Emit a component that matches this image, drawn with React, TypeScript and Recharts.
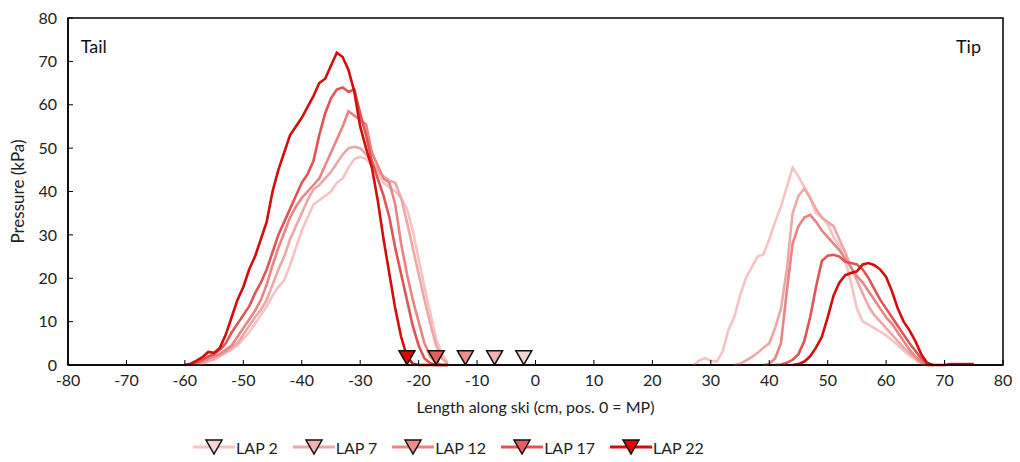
import React from 'react';
import {
  ComposedChart,
  Line,
  Scatter,
  XAxis,
  YAxis,
  Legend,
  ReferenceArea,
  ReferenceDot,
  Label,
} from 'recharts';

const laps = ['LAP 2', 'LAP 7', 'LAP 12', 'LAP 17', 'LAP 22'];
const lapKeys = ['lap2', 'lap7', 'lap12', 'lap17', 'lap22'];
const lineColors = ['#f5c3c3', '#f0a6a6', '#e98484', '#e05454', '#d40d0d'];
const markerColors = ['#f9d3d3', '#f5b0b0', '#ef8c8c', '#e65d5d', '#e30000'];

// marker positions (cm) for each lap
const markerX = [-2, -7, -12, -17, -22];
const markerY = 1.7;

const xTicks = [-80, -70, -60, -50, -40, -30, -20, -10, 0, 10, 20, 30, 40, 50, 60, 70, 80];
const yTicks = [0, 10, 20, 30, 40, 50, 60, 70, 80];

// tail section, x = -60 .. -15
const tailX = [
  -60, -59, -58, -57, -56, -55, -54, -53, -52, -51, -50, -49, -48, -47, -46, -45,
  -44, -43, -42, -41, -40, -39, -38, -37, -36, -35, -34, -33, -32, -31, -30, -29,
  -28, -27, -26, -25, -24, -23, -22, -21, -20, -19, -18, -17, -16, -15,
];
const lap2Tail = [
  null, null, 0, 0.3, 0.8, 1.2, 2, 2.8, 3.5, 4.5, 6, 7.5, 9.5, 11.5, 13.5, 16,
  18, 19.5, 23, 27, 31, 34, 37, 38, 39, 40, 42, 43, 45.5, 47.5, 48, 47.5,
  46, 44.5, 42, 41, 40, 38.5, 36, 31, 24.5, 18, 12, 6, 2.5, 0.5,
];
const lap7Tail = [
  null, null, 0, 0.5, 1, 1.5, 2.2, 3, 4, 5, 7, 9, 11, 12.7, 15, 18.5,
  22, 25, 29, 32, 35, 38, 40.5, 41.5, 43, 44.5, 46.5, 48.5, 50, 50.3, 50, 48.5,
  47, 45, 43.5, 42.5, 42, 38.5, 33, 27, 21, 15, 9.5, 4.5, 1.5, 0.3,
];
const lap12Tail = [
  null, 0, 0.3, 0.8, 1.5, 2, 2.5, 3.5, 4.5, 6.5, 8.5, 10.5, 12.5, 15, 18.5, 23,
  27, 30.5, 34, 36.5, 38.5, 40, 41.5, 43, 46, 49, 52, 55, 58.5, 57.5, 56.5, 55.5,
  49, 46, 43, 42, 37, 28, 21, 15, 10, 5, 2, 0.5, 0, 0,
];
const lap17Tail = [
  0, 0.2, 0.6, 1.2, 2, 2.5, 3.5, 5, 7.5, 9.5, 11.5, 13.5, 16.5, 19, 22, 26,
  30, 33, 36, 39, 42, 44, 47, 53, 58, 61.5, 63.5, 64, 63, 63.5, 58, 53,
  47, 43, 39, 34, 27, 21, 15, 9, 4.5, 1.5, 0.4, 0, 0, 0,
];
const lap22Tail = [
  0, 0.3, 1, 1.8, 3, 2.8, 4, 7, 11, 15, 18, 22, 25, 29, 33, 40,
  45, 49, 53, 55, 57, 59.5, 62, 65, 66, 69, 72, 71, 68, 63, 55, 50,
  45.5, 38, 29, 21, 13, 6.5, 2, 0.3, 0, 0, 0, 0, 0, 0,
];

// tip section, x = 26 .. 75
const tipX = [
  26, 27, 28, 29, 30, 31, 32, 33, 34, 35, 36, 37, 38, 39, 40, 41, 42, 43, 44, 45,
  46, 47, 48, 49, 50, 51, 52, 53, 54, 55, 56, 57, 58, 59, 60, 61, 62, 63, 64, 65,
  66, 67, 68, 69, 70, 71, 72, 73, 74, 75,
];
const lap2Tip = [
  null, 0, 1, 1.6, 1, 0.8, 3, 8, 11, 16, 20, 22.5, 25, 25.5, 29, 33, 36.5, 41, 45.5, 43.5,
  41, 38.5, 35, 34, 32.5, 29.5, 27.5, 24, 19, 13, 10, 9.3, 8.5, 7.7, 6.8, 5.7, 4.6, 3.3, 2.2, 1.2,
  0.3, 0, 0, null, null, null, null, null, null, null,
];
const lap7Tip = [
  null, null, null, null, null, null, null, null, 0, 0.3, 1, 1.8, 2.8, 4, 5, 8.5, 13, 22, 35, 39,
  40.7, 38.5, 36, 34, 33, 32, 29, 26, 22.5, 19.5, 16.5, 13.5, 11.5, 10, 8.5, 7, 5.5, 4, 2.8, 1.5,
  0.5, 0, 0, null, null, null, null, null, null, null,
];
const lap12Tip = [
  null, null, null, null, null, null, null, null, null, null, null, null, null, 0, 0.3, 1.5, 5, 17, 28, 32,
  34, 34.6, 33, 31, 29.5, 28, 26.5, 24.5, 22.5, 20.5, 19, 17, 15, 13, 11, 9.5, 7.5, 5.5, 3.5, 2,
  0.7, 0, 0, null, null, null, null, null, null, null,
];
const lap17Tip = [
  null, null, null, null, null, null, null, null, null, null, null, null, null, null, null, 0, 0.1, 0.5, 1.2, 2.5,
  5.5, 11, 18, 24, 25.2, 25.4, 25, 23.8, 23.5, 23.2, 22, 20, 17.5, 15, 13, 11, 9, 7, 5, 3.3,
  1.5, 0.3, 0, null, null, null, null, null, null, null,
];
const lap22Tip = [
  null, null, null, null, null, null, null, null, null, null, null, null, null, null, null, null, null, null, 0, 0.2,
  0.8, 2, 4, 6.5, 11, 16, 19, 20.7, 21.2, 21.6, 23.2, 23.5, 23, 22, 20.3, 17, 13, 10, 8, 5.5,
  2.5, 0.5, 0, 0, 0, 0.2, 0.2, 0.2, 0.2, 0.2,
];

const tailSeries = [lap2Tail, lap7Tail, lap12Tail, lap17Tail, lap22Tail];
const tipSeries = [lap2Tip, lap7Tip, lap12Tip, lap17Tip, lap22Tip];

const buildRows = (xs: number[], series: (number | null)[][]) =>
  xs.map((x, i) => {
    const row: Record<string, number | null> = { x };
    lapKeys.forEach((k, s) => {
      row[k] = series[s][i];
    });
    return row;
  });

const data = [...buildRows(tailX, tailSeries), ...buildRows(tipX, tipSeries)];

const FONT = 'Lato, "Open Sans", sans-serif';

const TriangleDown = ({ cx, cy, fill }: { cx?: number; cy?: number; fill?: string }) => {
  if (cx == null || cy == null) return null;
  return (
    <path
      d={`M${cx - 8},${cy - 7} L${cx + 8},${cy - 7} L${cx},${cy + 7} Z`}
      fill={fill}
      stroke="#111"
      strokeWidth={1.5}
    />
  );
};

const renderLegend = () => (
  <div
    style={{
      height: 47,
      display: 'flex',
      justifyContent: 'center',
      alignItems: 'flex-end',
      gap: 15,
      fontFamily: FONT,
      fontSize: 16,
      color: '#222',
      paddingRight: 114,
    }}
  >
    {laps.map((name, i) => (
      <div key={name} style={{ display: 'flex', alignItems: 'center', height: 22, marginBottom: 4 }}>
        <svg width={42} height={18}>
          <line x1={0} y1={9} x2={42} y2={9} stroke={lineColors[i]} strokeWidth={3} />
          <path d="M13,2 L29,2 L21,16 Z" fill={markerColors[i]} stroke="#111" strokeWidth={1.5} />
        </svg>
        <span style={{ marginLeft: 1 }}>{name}</span>
      </div>
    ))}
  </div>
);

export default function App() {
  return (
    <div style={{ width: 1004, height: 454, background: '#fff' }}>
      <ComposedChart
        width={1004}
        height={454}
        data={data}
        margin={{ top: 10, right: 9, bottom: 0, left: 0 }}
        style={{ fontFamily: FONT }}
      >
        <XAxis
          dataKey="x"
          type="number"
          domain={[-80, 80]}
          ticks={xTicks}
          interval={0}
          height={50}
          tickSize={-5}
          tickMargin={15}
          axisLine={{ stroke: '#000', strokeWidth: 1.5 }}
          tickLine={{ stroke: '#000', strokeWidth: 1 }}
          tick={{ fill: '#222', fontSize: 16, fontFamily: FONT }}
        >
          <Label
            value="Length along ski (cm, pos. 0 = MP)"
            position="insideBottom"
            offset={2}
            style={{ fill: '#222', fontSize: 16, fontFamily: FONT }}
          />
        </XAxis>
        <YAxis
          type="number"
          domain={[0, 80]}
          ticks={yTicks}
          interval={0}
          width={60}
          tickSize={-5}
          tickMargin={16}
          axisLine={{ stroke: '#000', strokeWidth: 1.5 }}
          tickLine={{ stroke: '#000', strokeWidth: 1 }}
          tick={{ fill: '#222', fontSize: 16, fontFamily: FONT }}
        >
          <Label
            value="Pressure (kPa)"
            angle={-90}
            position="insideLeft"
            offset={10}
            style={{ fill: '#222', fontSize: 17, fontFamily: FONT, textAnchor: 'middle' }}
          />
        </YAxis>
        <ReferenceArea x1={-80} x2={80} y1={0} y2={80} fill="none" stroke="#000" strokeWidth={1.5} />
        <ReferenceDot
          x={-75.6}
          y={73.3}
          r={0}
          fill="none"
          stroke="none"
          label={{ value: 'Tail', position: 'center', fill: '#111', fontSize: 18, fontFamily: FONT }}
        />
        <ReferenceDot
          x={74.1}
          y={73.3}
          r={0}
          fill="none"
          stroke="none"
          label={{ value: 'Tip', position: 'center', fill: '#111', fontSize: 18, fontFamily: FONT }}
        />
        {lapKeys.map((k, i) => (
          <Line
            key={k}
            dataKey={k}
            name={laps[i]}
            type="linear"
            stroke={lineColors[i]}
            strokeWidth={2.6}
            dot={false}
            activeDot={false}
            connectNulls={false}
            isAnimationActive={false}
          />
        ))}
        {lapKeys.map((k, i) => (
          <Scatter
            key={`m-${k}`}
            data={[{ x: markerX[i], y: markerY }]}
            dataKey="y"
            fill={markerColors[i]}
            shape={(p: any) => <TriangleDown cx={p.cx} cy={p.cy} fill={markerColors[i]} />}
            isAnimationActive={false}
            legendType="none"
          />
        ))}
        <Legend verticalAlign="bottom" content={renderLegend} />
      </ComposedChart>
    </div>
  );
}
